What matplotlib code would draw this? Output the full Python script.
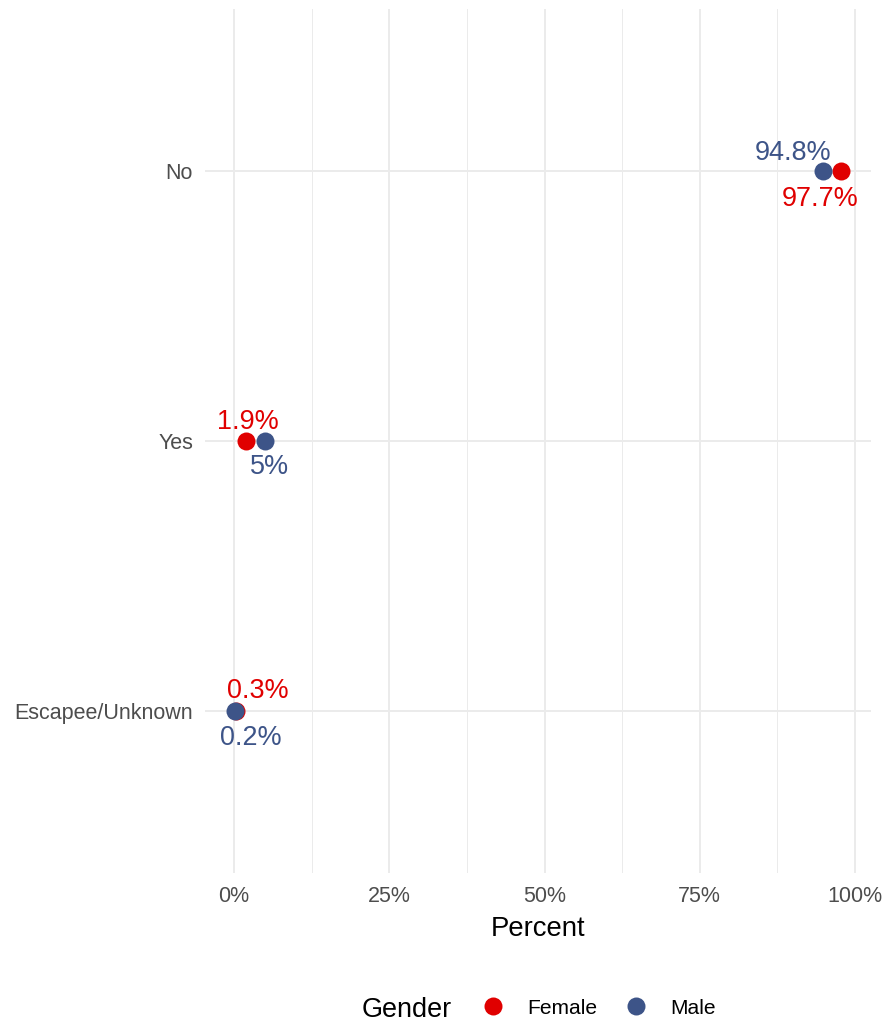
import matplotlib
matplotlib.use("Agg")
import matplotlib.pyplot as plt
from matplotlib.lines import Line2D
from matplotlib.ticker import FuncFormatter, MultipleLocator

# Data (percent of each gender)
categories = ["Escapee/Unknown", "Yes", "No"]
female = [0.3, 1.9, 97.7]
male = [0.2, 5.0, 94.8]
x_ticks = [0, 25, 50, 75, 100]

# label offsets in px (dx, dy) - mimics the repelled labels
female_off = [(21.5, 13), (2, 12), (-20.5, -35)]
male_off = [(16, -34), (4, -33), (-30, 11)]

RED = "#E00000"
BLUE = "#3D5488"
GRID = "#EBEBEB"

plt.rcParams['font.family'] = ['Liberation Sans', 'DejaVu Sans']

W, H, DPI = 886, 1021, 72
fig = plt.figure(figsize=(W / DPI, H / DPI), dpi=DPI)
ax = fig.add_axes([205 / W, 1 - 873 / H, (871 - 205) / W, (873 - 9) / H])

ypos = list(range(len(categories)))
ax.scatter(female, ypos, s=18 ** 2, color=RED, zorder=3, linewidths=0)
ax.scatter(male, ypos, s=18 ** 2, color=BLUE, zorder=4, linewidths=0)

for vals, offs, col in [(female, female_off, RED), (male, male_off, BLUE)]:
    for y, (v, (dx, dy)) in enumerate(zip(vals, offs)):
        ax.annotate(f"{v:g}%", (v, y), xytext=(dx, dy), textcoords="offset points",
                    ha="center", va="baseline", fontsize=27, color=col, zorder=5)

allv = female + male
lo, hi = min(allv), max(allv)
pad = (hi - lo) * 0.05
ax.set_xlim(lo - pad, hi + pad)
ax.set_ylim(-0.6, len(categories) - 1 + 0.6)

ax.set_yticks(ypos)
ax.set_yticklabels(categories)
ax.xaxis.set_major_locator(MultipleLocator(25))
ax.xaxis.set_minor_locator(MultipleLocator(12.5))
ax.set_xticks(x_ticks)
ax.xaxis.set_major_formatter(FuncFormatter(lambda v, p: f"{v:g}%"))

ax.grid(True, which="major", color=GRID, linewidth=2)
ax.grid(True, which="minor", axis="x", color=GRID, linewidth=1)
ax.set_axisbelow(True)
for sp in ax.spines.values():
    sp.set_visible(False)
ax.tick_params(axis="both", which="both", length=0, labelsize=21.5, labelcolor="#4D4D4D")
ax.tick_params(axis="x", pad=13.5)
ax.tick_params(axis="y", pad=12)

ax.set_xlabel("Percent", fontsize=27.5, color="black", labelpad=8.5)

# legend at the bottom
handles = [Line2D([], [], marker="o", linestyle="", markersize=18, color=RED, markeredgewidth=0),
           Line2D([], [], marker="o", linestyle="", markersize=18, color=BLUE, markeredgewidth=0)]
fig.legend(handles, ["Female", "Male"], ncol=2, loc="center left",
           bbox_to_anchor=(482.5 / W, 1 - 1008 / H), frameon=False, fontsize=21,
           handlelength=1, handletextpad=1.12, columnspacing=1.36,
           borderpad=0, borderaxespad=0)
fig.text(362 / W, 1 - 1017 / H, "Gender", fontsize=27, ha="left", va="baseline")

fig.savefig("out.png", dpi=DPI, facecolor="white")
